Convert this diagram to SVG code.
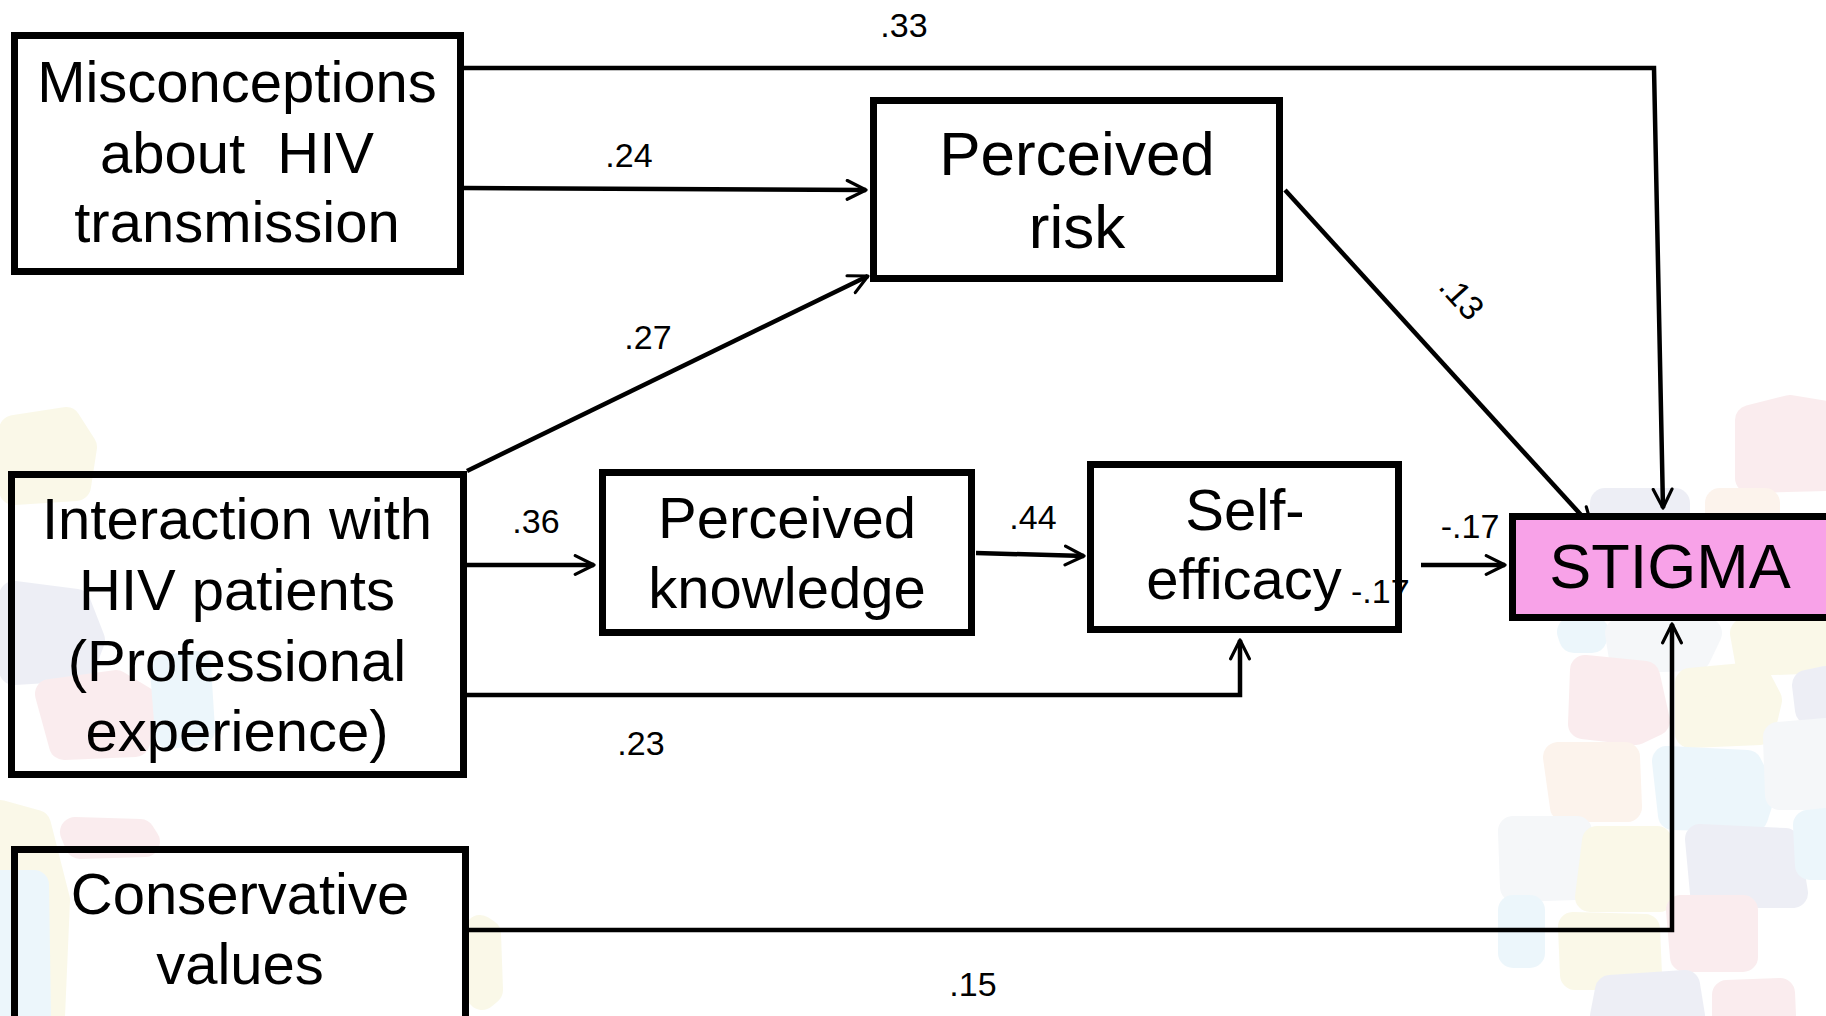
<svg xmlns="http://www.w3.org/2000/svg" width="1826" height="1016" viewBox="0 0 1826 1016">
<defs>
<style>
.box{fill:none;stroke:#000;stroke-width:7}
.stig{fill:#F8A2E8;stroke:#000;stroke-width:7}
.node{font-family:"Liberation Sans",Arial,sans-serif;font-size:58px;fill:#000;text-anchor:middle}
.lbl{font-family:"Liberation Sans",Arial,sans-serif;font-size:34px;fill:#000;text-anchor:middle}
.con{fill:none;stroke:#000;stroke-width:4.5}
.bl{stroke-width:30;stroke-linejoin:round}
.pk{fill:#F9E5E7;stroke:#F9E5E7}
.yl{fill:#F8F6DF;stroke:#F8F6DF}
.bu{fill:#E5F3FA;stroke:#E5F3FA}
.lv{fill:#E6E8F2;stroke:#E6E8F2}
.pc{fill:#FCEEE4;stroke:#FCEEE4}
.gr{fill:#F1F4F7;stroke:#F1F4F7}
</style>
<marker id="arr" viewBox="0 0 12 12" refX="11" refY="6" markerWidth="5" markerHeight="5" markerUnits="strokeWidth" orient="auto">
<path d="M1,1 L11,6 L1,11" fill="none" stroke="#000" stroke-width="1.7" stroke-linecap="round" stroke-linejoin="round"/>
</marker>
</defs>
<rect width="1826" height="1016" fill="#fff"/>
<g id="background" opacity="0.7">
<polygon class="bl yl" points="14,430 66,422 82,447 76,486 14,490"/>
<polygon class="bl lv" points="14,596 76,604 90,640 80,666 14,670"/>
<polygon class="bl pk" points="50,694 116,685 144,702 135,742 64,745"/>
<polygon class="bl bu" points="165,670 196,666 200,730 170,734"/>
<polygon class="bl yl" points="0,815 36,825 55,900 50,1016 0,1016"/>
<polygon class="bl pk" points="75,832 140,834 145,842 80,844"/>
<polygon class="bl bu" points="0,885 34,885 36,1016 0,1016"/>
<polygon class="bl yl" points="480,930 486,934 488,990 482,995"/>
<polygon class="bl pk" points="1750,420 1790,410 1826,416 1826,476 1750,478"/>
<polygon class="bl pc" points="1720,503 1765,503 1765,515 1720,515"/>
<polygon class="bl lv" points="1605,503 1675,503 1675,515 1605,515"/>
<polygon class="bl bu" points="1572,632 1594,632 1592,638 1574,638"/>
<polygon class="bl gr" points="1620,633 1707,633 1696,656 1624,658"/>
<polygon class="bl yl" points="1745,633 1826,633 1826,658 1750,661"/>
<polygon class="bl pk" points="1585,670 1645,676 1655,721 1636,730 1583,724"/>
<polygon class="bl yl" points="1690,683 1755,677 1767,700 1760,730 1690,733"/>
<polygon class="bl lv" points="1807,685 1826,681 1826,713 1810,710"/>
<polygon class="bl pc" points="1558,757 1625,757 1627,807 1565,807"/>
<polygon class="bl bu" points="1667,761 1747,765 1761,792 1753,817 1673,815"/>
<polygon class="bl gr" points="1778,737 1826,733 1826,795 1780,795"/>
<polygon class="bl gr" points="1513,831 1577,831 1575,885 1515,887"/>
<polygon class="bl yl" points="1597,841 1657,841 1659,897 1590,897"/>
<polygon class="bl lv" points="1700,839 1785,843 1793,893 1705,893"/>
<polygon class="bl bu" points="1808,825 1826,823 1826,865 1810,865"/>
<polygon class="bl bu" points="1513,910 1530,910 1530,953 1513,953"/>
<polygon class="bl yl" points="1573,927 1645,929 1647,975 1575,975"/>
<polygon class="bl pk" points="1681,910 1743,910 1743,957 1685,957"/>
<polygon class="bl lv" points="1610,990 1685,985 1690,1016 1605,1016"/>
<polygon class="bl pk" points="1727,995 1780,993 1781,1016 1727,1016"/>
</g>
<g id="connectors">
<path class="con" d="M464,68 H1654 L1663,508" marker-end="url(#arr)"/>
<path class="con" d="M464,188 L866,190" marker-end="url(#arr)"/>
<path class="con" d="M467,471 L868,276" marker-end="url(#arr)"/>
<path class="con" d="M1285,190 L1592,527" marker-end="url(#arr)"/>
<path class="con" d="M467,565 H594" marker-end="url(#arr)"/>
<path class="con" d="M976,553 L1084,556" marker-end="url(#arr)"/>
<path class="con" d="M467,695 H1240 V640" marker-end="url(#arr)"/>
<path class="con" d="M1421,565 H1505" marker-end="url(#arr)"/>
<path class="con" d="M469,930 H1672 V624" marker-end="url(#arr)"/>
</g>
<g id="labels">
<text class="lbl" x="904" y="37">.33</text>
<text class="lbl" x="629" y="167">.24</text>
<text class="lbl" x="648" y="349">.27</text>
<text class="lbl" x="1453" y="305" transform="rotate(48 1453 305)">.13</text>
<text class="lbl" x="536" y="533">.36</text>
<text class="lbl" x="1033" y="529">.44</text>
<text class="lbl" x="641" y="755">.23</text>
<text class="lbl" x="1470" y="538">-.17</text>
<text class="lbl" x="973" y="996">.15</text>
</g>
<g id="node-misconceptions">
<rect class="box" x="14.5" y="35.5" width="446" height="236"/>
<text class="node" x="237" y="102">Misconceptions</text>
<text class="node" x="237" y="173" xml:space="preserve">about  HIV</text>
<text class="node" x="237" y="242">transmission</text>
</g>
<g id="node-perceived-risk">
<rect class="box" x="873.5" y="100.5" width="406" height="178"/>
<text class="node" x="1077" y="175" style="font-size:62px">Perceived</text>
<text class="node" x="1077" y="248" style="font-size:62px">risk</text>
</g>
<g id="node-interaction">
<rect class="box" x="11.5" y="474.5" width="452" height="300"/>
<text class="node" x="237" y="539">Interaction with</text>
<text class="node" x="237" y="610">HIV patients</text>
<text class="node" x="237" y="681">(Professional</text>
<text class="node" x="237" y="751">experience)</text>
</g>
<g id="node-perceived-knowledge">
<rect class="box" x="602.5" y="472.5" width="369" height="160"/>
<text class="node" x="787" y="538">Perceived</text>
<text class="node" x="787" y="608">knowledge</text>
</g>
<g id="node-self-efficacy">
<text class="node" x="1245" y="530">Self-</text>
<text class="node" x="1244" y="599">efficacy</text>
<text class="lbl" x="1351" y="603" style="text-anchor:start">-.17</text>
<rect class="box" x="1090.5" y="464.5" width="308" height="165"/>
</g>
<g id="node-stigma">
<rect class="stig" x="1512.5" y="516.5" width="322" height="101"/>
<text class="node" x="1670" y="588" style="font-size:63px">STIGMA</text>
</g>
<g id="node-conservative">
<rect class="box" x="14.5" y="849.5" width="451" height="180"/>
<text class="node" x="240" y="914">Conservative</text>
<text class="node" x="240" y="984">values</text>
</g>
</svg>
